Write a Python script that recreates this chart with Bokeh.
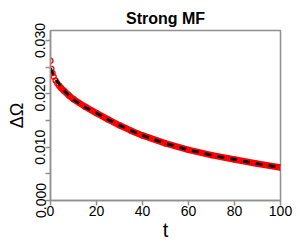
from bokeh.plotting import figure
from bokeh.models import Range1d, FixedTicker
from bokeh.embed import file_html
from bokeh.resources import INLINE

# data
t_sim = [0, 0.4, 0.9, 1.4, 2.2, 2.9, 3.6, 4.6, 5.8, 8, 10, 15, 20, 25, 30, 35, 40, 50, 60, 70, 80, 90, 100]
omega_sim = [0.0262, 0.0247, 0.0239, 0.0232, 0.0225, 0.0220, 0.0216, 0.0211, 0.0206, 0.0197,
             0.0190, 0.0176, 0.0164, 0.0152, 0.0141, 0.0131, 0.0122, 0.0107, 0.0095, 0.0085,
             0.0077, 0.0069, 0.0062]
t_fit = [0, 1, 2, 3, 5, 7.5, 10, 15, 20, 25, 30, 35, 40, 50, 60, 70, 80, 90, 100]
omega_fit = [0.0248, 0.0238, 0.0230, 0.0223, 0.0211, 0.0199, 0.0189, 0.0175, 0.0164, 0.0152,
             0.0141, 0.0131, 0.0122, 0.0107, 0.0095, 0.0085, 0.0077, 0.0069, 0.0062]
x_ticks = [0, 20, 40, 60, 80, 100]
y_ticks = [0.0, 0.005, 0.010, 0.015, 0.020, 0.025, 0.030]
y_labels = {0.0: "0.000", 0.005: "", 0.010: "0.010", 0.015: "", 0.020: "0.020", 0.025: "", 0.030: "0.030"}

FONT = "Liberation Sans"
GRAY = "#909090"

p = figure(width=300, height=250, output_backend="svg", toolbar_location=None,
           title="Strong MF",
           x_range=Range1d(0, 100), y_range=Range1d(0, 0.03188),
           min_border_left=50, min_border_right=20, min_border_top=30, min_border_bottom=50)

p.title.align = "center"
p.title.text_font = FONT
p.title.text_font_size = "16px"
p.title.text_font_style = "bold"
p.title.text_color = "black"
p.title.standoff = 7
p.title.offset = 0

p.grid.visible = False
p.outline_line_color = GRAY
p.outline_line_width = 1.5
p.background_fill_color = "white"
p.border_fill_color = "white"

# red band of simulation points (dense part drawn as a thick band, early points as open circles)
band_start = 6
p.line(t_sim[band_start:], omega_sim[band_start:], line_color="red", line_width=6.5)
p.scatter(t_sim, omega_sim, marker="circle", size=5, fill_color=None,
          line_color="red", line_width=1.3)
# dashed fit
p.line(t_fit, omega_fit, line_color="black", line_width=2.8, line_dash="7 6")

for ax in (p.xaxis[0], p.yaxis[0]):
    ax.axis_line_color = GRAY
    ax.axis_line_width = 1.5
    ax.major_tick_line_color = GRAY
    ax.major_tick_line_width = 1.5
    ax.major_tick_out = 5
    ax.major_tick_in = 0
    ax.minor_tick_line_color = None
    ax.major_label_text_font = FONT
    ax.major_label_text_font_size = "14px"
    ax.major_label_text_color = "black"
    ax.axis_label_text_font = FONT
    ax.axis_label_text_font_style = "normal"
    ax.axis_label_text_color = "black"

p.xaxis.ticker = FixedTicker(ticks=x_ticks)
p.xaxis.axis_label = "t"
p.xaxis.axis_label_text_font_size = "20px"
p.xaxis.major_label_standoff = 0
p.xaxis.axis_label_standoff = 0

p.yaxis.ticker = FixedTicker(ticks=y_ticks)
p.yaxis.major_label_overrides = y_labels
p.yaxis.major_label_orientation = "vertical"
p.yaxis.axis_label = "ΔΩ"
p.yaxis.axis_label_text_font_size = "18px"
p.yaxis.major_label_standoff = 0
p.yaxis.axis_label_standoff = 6

open("out.html", "w").write(file_html(p, INLINE))
